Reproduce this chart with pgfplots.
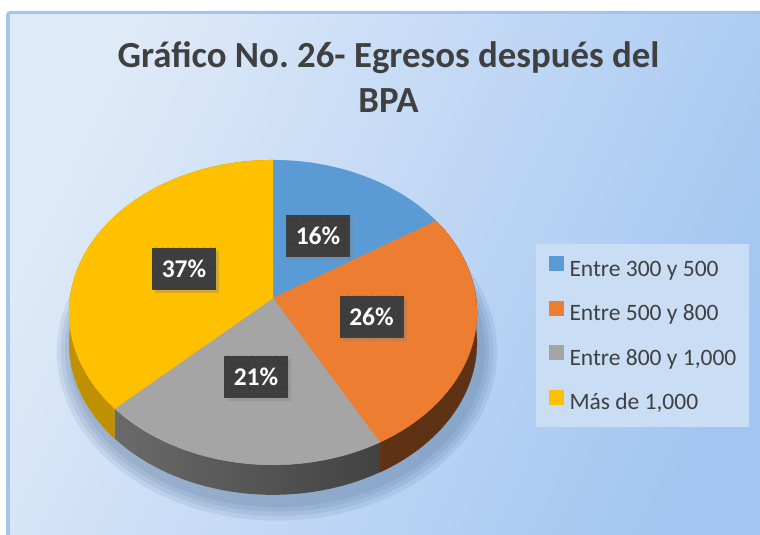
\documentclass[border=0pt]{standalone}
\usepackage{fontspec}
\setmainfont{Carlito}
\usepackage{pgfplots}
\pgfplotsset{compat=1.18}
\usepackage{pgfplotstable}
\usetikzlibrary{shadows,patterns.meta}
\frenchspacing

\definecolor{cBlue}{HTML}{5B9BD5}
\definecolor{cOrange}{HTML}{ED7D31}
\definecolor{cGray}{HTML}{A5A5A5}
\definecolor{cYellow}{HTML}{FFC000}
\definecolor{sOrange}{HTML}{5F3214}
\definecolor{sGrayL}{HTML}{6A6A6A}
\definecolor{sGrayR}{HTML}{424242}
\definecolor{sYellow}{HTML}{BF9000}
\definecolor{bgA}{HTML}{DFEAF8}
\definecolor{bgB}{HTML}{A2C5F1}
\definecolor{frameC}{HTML}{A4C5E9}
\definecolor{txt}{HTML}{404040}
\definecolor{lbl}{HTML}{3D3D3D}
\definecolor{lblDot}{HTML}{565656}
\definecolor{legBg}{HTML}{C9DDF4}
\definecolor{shadowC}{HTML}{3A5A85}

% label x, label y (pixels), share in %
\pgfplotstableread{
lx ly value
318 236 16
371.5 316.5 26
256 376.5 21
184 268.5 37
}\piedata

\pgfplotstablegetelem{0}{value}\of\piedata\edef\vA{\pgfplotsretval}
\pgfplotstablegetelem{1}{value}\of\piedata\edef\vB{\pgfplotsretval}
\pgfplotstablegetelem{2}{value}\of\piedata\edef\vC{\pgfplotsretval}
\pgfplotstablegetelem{3}{value}\of\piedata\edef\vD{\pgfplotsretval}
\pgfmathsetmacro\aA{0}
\pgfmathsetmacro\aB{3.6*\vA}
\pgfmathsetmacro\aC{3.6*(\vA+\vB)}
\pgfmathsetmacro\aD{3.6*(\vA+\vB+\vC)}
\pgfmathsetmacro\aE{3.6*(\vA+\vB+\vC+\vD)}

\begin{document}
\begin{tikzpicture}
\path[use as bounding box] (0,0) rectangle (760pt,535pt);
\begin{axis}[
  scale only axis, width=760pt, height=535pt,
  xmin=0, xmax=760, ymin=0, ymax=535, y dir=reverse,
  hide axis, clip=false,
  /pgf/number format/assume math mode=true,
  declare function={
    px(\t)=273+203*sin(\t)/(1+0.095*cos(\t));
    py(\t)=298-151*cos(\t)/(1+0.095*cos(\t));
    tt(\s,\ua,\ub)=\ua+(\ub-\ua)*(min(\s,1)-max(\s-2,0));
    off(\s)=30*min(max(\s-1,0),1);
  },
  legend style={at={(0.70526,0.54393)}, anchor=north west, draw=none,
    fill=legBg, inner xsep=13pt, inner ysep=12pt, row sep=19.5pt,
    font=\fontsize{23.5pt}{28pt}\selectfont, text=txt,
    nodes={inner sep=0pt, text height=16pt, text depth=5pt},
    /tikz/every odd column/.append style={column sep=6pt}},
  legend cell align=left,
  legend image code/.code={\fill[#1] (0pt,0.4pt) rectangle (14pt,14.4pt);},
]
% background and frame
\fill[frameC, rounded corners=4pt] (axis cs:6,11) rectangle (axis cs:780,560);
\shade[top color=bgA, bottom color=bgB, shading angle=65] (axis cs:10,15) rectangle (axis cs:780,560);

% title
\node[anchor=base, text=txt, font=\fontsize{36.8pt}{44pt}\selectfont\bfseries] at (axis cs:388.5,67) {Gráfico No. 26- Egresos después del};
\node[anchor=base, text=txt, font=\fontsize{36.8pt}{44pt}\selectfont\bfseries] at (axis cs:388.5,112) {BPA};

% soft shadow
\pgfplotsinvokeforeach{16,12,8,4}{
\addplot[forget plot, fill=shadowC, fill opacity=0.1, draw=none, domain=0:360, samples=100, variable=\t]
  ({277+(1+#1/200)*(px(\t)-273)}, {336+(1+#1/150)*(py(\t)-298)}) -- cycle;
}

% sides
\addplot[forget plot, fill=sOrange, draw=sOrange, line width=0.3pt, variable=\s, samples at={0,0.02,...,3}]
  ({px(tt(\s,\aB,\aC))}, {py(tt(\s,\aB,\aC))+off(\s)}) -- cycle;
\addplot[forget plot, left color=sGrayL, right color=sGrayR, draw=none, variable=\s, samples at={0,0.02,...,3}]
  ({px(tt(\s,\aC,\aD))}, {py(tt(\s,\aC,\aD))+off(\s)}) -- cycle;
\addplot[forget plot, fill=sYellow, draw=sYellow, line width=0.3pt, variable=\s, samples at={0,0.02,...,3}]
  ({px(tt(\s,\aD,\aE))}, {py(tt(\s,\aD,\aE))+off(\s)}) -- cycle;

% top faces
\addplot[fill=cBlue, draw=cBlue, line width=0.3pt, domain=\aA:\aB, samples=60, variable=\t]
  ({px(\t)}, {py(\t)}) -- (axis cs:273,298) -- cycle;
\addlegendentry{Entre 300 y 500}
\addplot[fill=cOrange, draw=cOrange, line width=0.3pt, domain=\aB:\aC, samples=80, variable=\t]
  ({px(\t)}, {py(\t)}) -- (axis cs:273,298) -- cycle;
\addlegendentry{Entre 500 y 800}
\addplot[fill=cGray, draw=cGray, line width=0.3pt, domain=\aC:\aD, samples=70, variable=\t]
  ({px(\t)}, {py(\t)}) -- (axis cs:273,298) -- cycle;
\addlegendentry{Entre 800 y 1,000}
\addplot[fill=cYellow, draw=cYellow, line width=0.3pt, domain=\aD:\aE, samples=100, variable=\t]
  ({px(\t)}, {py(\t)}) -- (axis cs:273,298) -- cycle;
\addlegendentry{Más de 1,000}

% data labels
\addplot[forget plot, draw=none, mark=none, point meta=explicit,
  nodes near coords={\pgfmathprintnumber[fixed,precision=0]{\pgfplotspointmeta}\%},
  nodes near coords align={center},
  every node near coord/.style={anchor=center, fill=lbl, text=white,
    font=\fontsize{25.5pt}{30pt}\selectfont\bfseries,
    minimum width=64pt, minimum height=42pt, inner sep=0pt,
    drop shadow={shadow xshift=3pt, shadow yshift=-3pt, opacity=0.35},
    postaction={pattern={Dots[distance=6pt, radius=0.7pt]}, pattern color=lblDot}}]
  table[x=lx, y=ly, meta=value] {\piedata};
\end{axis}
\end{tikzpicture}
\end{document}
